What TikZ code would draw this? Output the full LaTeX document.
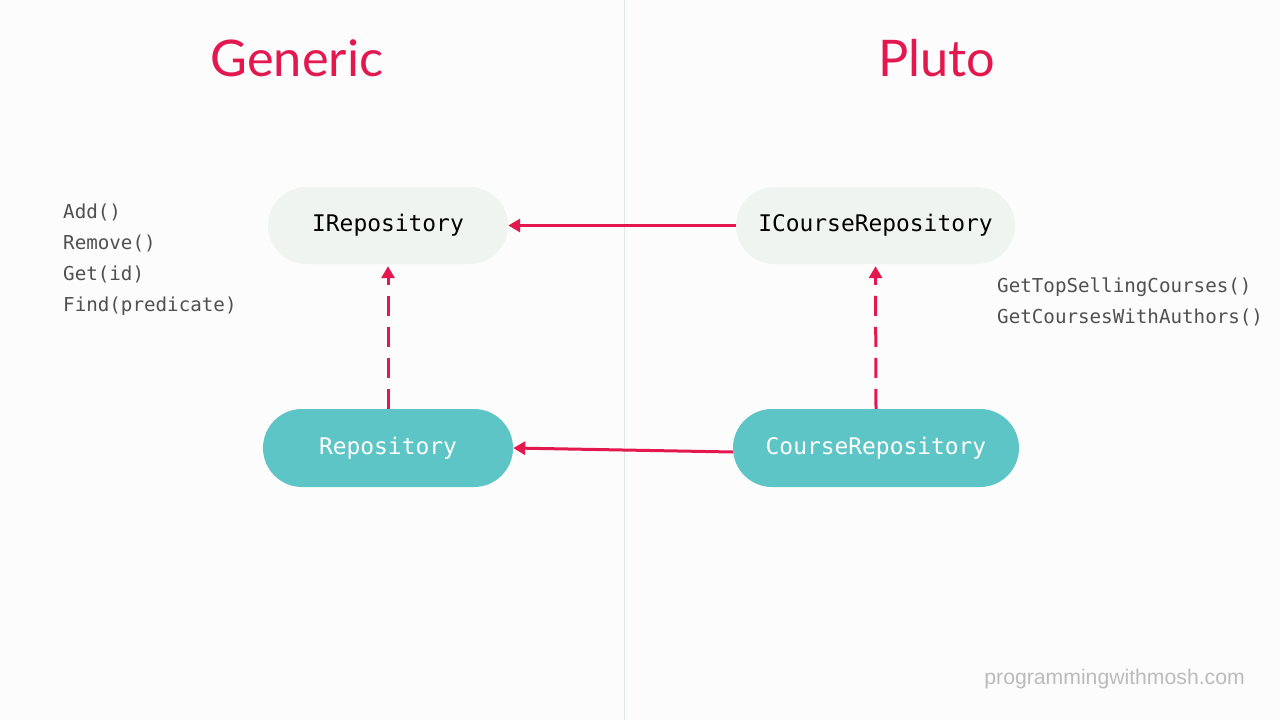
\documentclass[tikz,border=0pt]{standalone}
\usepackage{fontspec}
\setmainfont{Lato}
\newfontfamily\codefont{DejaVu Sans Mono}
\newfontfamily\markfont{Liberation Sans}
\usetikzlibrary{arrows.meta}
\definecolor{bgc}{HTML}{FCFCFC}
\definecolor{accent}{HTML}{E3184F}
\definecolor{lightbox}{HTML}{EFF4F1}
\definecolor{tealbox}{HTML}{5EC5C6}
\definecolor{divider}{HTML}{DDEBE8}
\definecolor{codegray}{HTML}{505050}
\definecolor{markgray}{HTML}{BBBBBB}
\tikzset{
  iface/.style={fill=lightbox, rounded corners=38.5pt, minimum width=#1, minimum height=77pt, inner sep=0pt, font=\codefont\fontsize{22.9}{26}\selectfont, text=black},
  impl/.style={fill=tealbox, rounded corners=39pt, minimum width=#1, minimum height=78pt, inner sep=0pt, font=\codefont\fontsize{22.9}{26}\selectfont, text=white},
  title/.style={font=\fontsize{50.5}{56}\selectfont, text=accent},
  methods/.style={font=\codefont\fontsize{19.2}{31}\selectfont, text=codegray, align=left, anchor=north west, inner sep=0pt},
  link/.style={draw=accent, line width=3pt, -{Triangle[length=12pt,width=13pt]}},
  dashlink/.style={link, dash pattern=on 20pt off 11pt}
}
\begin{document}
\begin{tikzpicture}[x=1pt,y=-1pt]
\fill[bgc] (0,0) rectangle (1280,720);
\useasboundingbox (0,0) rectangle (1280,720);
\draw[divider, line width=1pt] (624.5,0) -- (624.5,720);
\node[title] (tgen) at (297,58) {Generic};
\node[title] (tplu) at (937,58) {Pluto};
\node[iface=240pt] (irepo) at (388,225.5) {IRepository};
\node[iface=279pt] (icrepo) at (875.5,225.5) {ICourseRepository};
\node[impl=250pt] (repo) at (388,448) {Repository};
\node[impl=286pt] (crepo) at (876,448) {CourseRepository};
\node[methods] (gm) at (63,204) {Add()\\Remove()\\Get(id)\\Find(predicate)};
\node[methods] (pm) at (997,278) {GetTopSellingCourses()\\GetCoursesWithAuthors()};
\node[font=\markfont\fontsize{21.2}{24}\selectfont, text=markgray, anchor=east, inner sep=0pt] (mark) at (1245,679) {programmingwithmosh.com};
\draw[link] (icrepo.west) -- (irepo.east);
\draw[link] ([yshift=-4pt]crepo.west) -- (repo.east);
\draw[dashlink] (repo.north) -- ([yshift=-2pt]irepo.south);
\draw[dashlink] (crepo.north) -- ([yshift=-2pt]icrepo.south);
\end{tikzpicture}
\end{document}
